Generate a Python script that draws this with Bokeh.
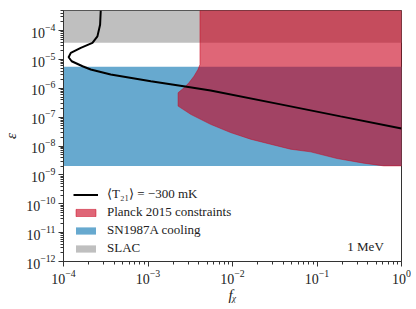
from bokeh.plotting import figure
from bokeh.models import (FixedTicker, LogTickFormatter, Legend, LegendItem, Label)
from bokeh.embed import file_html
from bokeh.resources import INLINE

# ---- data ----
# <T21> = -300 mK curve
line_fx = [2.76e-4, 2.71e-4, 2.52e-4, 2.20e-4, 1.60e-4, 1.22e-4, 1.15e-4, 1.25e-4,
           1.68e-4, 2.10e-4, 3.62e-4, 1.08e-3, 2.64e-3, 5.51e-3, 3.71e-2, 0.19, 1.0]
line_eps = [5.0e-4, 1.61e-4, 6.35e-5, 3.76e-5, 2.53e-5, 1.70e-5, 1.20e-5, 8.7e-6,
            5.85e-6, 4.5e-6, 3.03e-6, 1.78e-6, 1.19e-6, 8.48e-7, 2.79e-7, 1.07e-7, 4.1e-8]

# Planck 2015 excluded region (boundary)
planck_fx = [4.12e-3, 4.12e-3, 3.9e-3, 3.5e-3, 3.05e-3, 2.67e-3, 2.27e-3, 2.27e-3,
             3.2e-3, 5.5e-3, 9.5e-3, 1.64e-2, 2.82e-2, 4.86e-2, 8.4e-2, 0.173,
             0.357, 0.617, 1.0, 1.0]
planck_eps = [5.0e-4, 6.7e-6, 4.5e-6, 2.64e-6, 1.56e-6, 1.05e-6, 7.06e-7, 2.43e-7,
              1.26e-7, 5.68e-8, 2.94e-8, 1.73e-8, 1.16e-8, 7.8e-9, 6.3e-9, 3.7e-9,
              2.56e-9, 2.06e-9, 2.06e-9, 5.0e-4]

# SN1987A cooling band (eps range, over all f_chi)
sn_fx = [1e-4, 1.0]
sn_eps = [2.06e-9, 5.6e-6]

# SLAC band
slac_fx = [1e-4, 1.0]
slac_eps = [3.8e-5, 5.0e-4]

x_ticks = [1e-4, 1e-3, 1e-2, 1e-1, 1e0]
y_ticks = [1e-12, 1e-11, 1e-10, 1e-9, 1e-8, 1e-7, 1e-6, 1e-5, 1e-4]

SERIF = "Liberation Serif"

p = figure(frame_width=338, frame_height=251, x_axis_type="log", y_axis_type="log",
           x_range=(1e-4, 1.0), y_range=(1e-12, 5e-4),
           output_backend="svg", toolbar_location=None,
           min_border_left=55, min_border_right=10, min_border_top=10,
           min_border_bottom=38)

p.xgrid.visible = False
p.ygrid.visible = False
p.outline_line_color = "#333333"
p.outline_line_width = 1

slac = p.quad(left=[slac_fx[0]], right=[slac_fx[1]], bottom=[slac_eps[0]], top=[slac_eps[1]],
              fill_color="#bfbfbf", line_color=None)
sn = p.quad(left=[sn_fx[0]], right=[sn_fx[1]], bottom=[sn_eps[0]], top=[sn_eps[1]],
            fill_color="#67a9cf", line_color=None)
planck = p.patch(planck_fx, planck_eps, fill_color="#ca001c", fill_alpha=0.6,
                 line_color="#ca001c", line_alpha=0.6, line_width=0.8)
line = p.line(line_fx, line_eps, line_color="black", line_width=2)

def minor(ticks):
    out = []
    for t in ticks[:-1]:
        out += [t * k for k in range(2, 10)]
    return out

p.xaxis.ticker = FixedTicker(ticks=x_ticks, minor_ticks=minor(x_ticks))
p.yaxis.ticker = FixedTicker(ticks=y_ticks, minor_ticks=minor(y_ticks + [1e-3]))

for ax in (p.xaxis, p.yaxis):
    ax.formatter = LogTickFormatter()
    ax.major_label_text_font = SERIF
    ax.major_label_text_font_size = "14px"
    ax.major_label_text_color = "#222222"
    ax.major_label_standoff = 3
    ax.axis_label_text_font = SERIF
    ax.axis_label_text_font_size = "15px"
    ax.axis_label_text_font_style = "italic"
    ax.axis_label_text_color = "#222222"
    ax.major_tick_in = 0
    ax.major_tick_out = 5
    ax.minor_tick_in = 0
    ax.minor_tick_out = 3
    ax.axis_line_color = "#333333"
    ax.major_tick_line_color = "#333333"
    ax.minor_tick_line_color = "#333333"

p.xaxis.axis_label = "f\u1d6a"
p.yaxis.axis_label = "\u03b5"
p.xaxis.axis_label_standoff = 0
p.yaxis.axis_label_standoff = 4

legend = Legend(items=[
    LegendItem(label="\u27e8T\u2082\u2081\u27e9 = \u2212300 mK", renderers=[line]),
    LegendItem(label="Planck 2015 constraints", renderers=[planck]),
    LegendItem(label="SN1987A cooling", renderers=[sn]),
    LegendItem(label="SLAC", renderers=[slac]),
], location=(2, -3))
legend.label_text_font = SERIF
legend.label_text_font_size = "13px"
legend.label_text_color = "#222222"
legend.glyph_width = 25
legend.glyph_height = 9
legend.label_height = 16
legend.spacing = 2
legend.padding = 8
legend.label_standoff = 9
legend.background_fill_alpha = 0
legend.border_line_alpha = 0
p.add_layout(legend)

p.add_layout(Label(x=0.617, y=3.2e-12, text="1 MeV", text_align="right",
                   text_baseline="alphabetic", text_font=SERIF,
                   text_font_size="13px", text_color="#222222"))

open("out.html", "w").write(file_html(p, INLINE))
